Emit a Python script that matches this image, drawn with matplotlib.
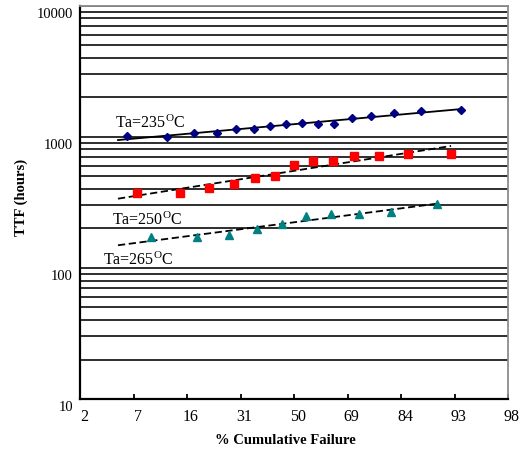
import matplotlib
matplotlib.use("Agg")
import matplotlib.pyplot as plt
import matplotlib.transforms as mtransforms
from matplotlib.ticker import LogLocator, NullFormatter, FixedLocator
import numpy as np
from statistics import NormalDist

# ---------------- data ----------------
x_tick_labels = [2, 7, 16, 31, 50, 69, 84, 93, 98]
y_tick_values = [10, 100, 1000, 10000]

# Ta = 235 C
pct_235 = [5.9, 11.8, 17.6, 23.5, 29.4, 35.3, 41.2, 47.1,
           52.9, 58.8, 64.7, 70.6, 76.5, 82.4, 88.2, 94.1]
ttf_235 = [1012, 989, 1062, 1073, 1151, 1151, 1207, 1243,
           1261, 1250, 1243, 1381, 1438, 1508, 1579, 1598]

# Ta = 250 C
pct_250 = [7.1, 14.3, 21.4, 28.6, 35.7, 42.9, 50.0,
           57.1, 64.3, 71.4, 78.6, 85.7, 92.9]
ttf_250 = [370, 370, 404, 434, 482, 502, 608,
           656, 656, 709, 709, 734, 734]

# Ta = 265 C
pct_265 = [9.1, 18.2, 27.3, 36.4, 45.5, 54.5, 63.6, 72.7, 81.8, 90.9]
ttf_265 = [171, 171, 178, 197, 215, 247, 256, 258, 268, 307]

labels = ["Ta=235$^{\\mathrm{O}}$C", "Ta=250$^{\\mathrm{O}}$C", "Ta=265$^{\\mathrm{O}}$C"]
fit_start_pct = 5.0

# ---------------- style ----------------
plt.rcParams["font.family"] = ["Liberation Serif", "DejaVu Serif"]
plt.rcParams["mathtext.fontset"] = "custom"
plt.rcParams["mathtext.rm"] = "Liberation Serif"
plt.rcParams["mathtext.it"] = "Liberation Serif:italic"
plt.rcParams["mathtext.bf"] = "Liberation Serif:bold"

nd = NormalDist()


def probit(p):
    return np.array([nd.inv_cdf(v / 100.0) for v in p])


fig = plt.figure(figsize=(5.27, 4.53), dpi=100)
W, H = 527, 453
ax = fig.add_axes([80 / W, 1 - 399 / H, 428 / W, (399 - 5.5) / H])

ax.set_yscale("log")
ax.set_ylim(10, 10000)
ax.set_xlim(-2, 2)

# horizontal grid lines
ax.yaxis.set_minor_locator(LogLocator(base=10, subs=np.arange(2, 10)))
ax.yaxis.set_minor_formatter(NullFormatter())
ax.yaxis.grid(True, which="both", color="black", lw=1.15)
ax.set_axisbelow(True)

# ticks
xpos = np.linspace(-2, 2, len(x_tick_labels))
ax.set_xticks(xpos)
ax.set_xticklabels([str(v) for v in x_tick_labels], fontsize=11.5)
ax.set_yticks(y_tick_values)
ax.set_yticklabels([str(v) for v in y_tick_values], fontsize=10.5)
ax.tick_params(axis="x", direction="in", length=3.5, width=1.3, pad=7, color="black")
ax.tick_params(axis="y", which="both", length=0, pad=5)

dx = mtransforms.ScaledTranslation(4 / 100, 0, fig.dpi_scale_trans)
for lab in ax.get_xticklabels():
    lab.set_transform(lab.get_transform() + dx)
dy = mtransforms.ScaledTranslation(0, -7 / 100, fig.dpi_scale_trans)
for lab in ax.get_yticklabels():
    lab.set_transform(lab.get_transform() + dy)

for s in ["left", "bottom"]:
    ax.spines[s].set_color("black")
    ax.spines[s].set_linewidth(1.6)
for s in ["top", "right"]:
    ax.spines[s].set_color("#8c8c8c")
    ax.spines[s].set_linewidth(1.3)

series = [
    (pct_235, ttf_235, "D", "#000080", 4.3, "-"),
    (pct_250, ttf_250, "s", "#ff0000", 5.5, (0, (4, 2))),
    (pct_265, ttf_265, "^", "#008080", 6.0, (0, (4, 2))),
]

z0 = probit([fit_start_pct])[0]
for pct, ttf, mk, col, ms, ls in series:
    zz = probit(pct)
    ly = np.log10(ttf)
    b, a = np.polyfit(zz, ly, 1)
    zf = np.array([z0, zz[-1]])
    ax.plot(zf, 10 ** (a + b * zf), color="black", lw=1.3, ls=ls, zorder=3)
    ax.plot(zz, ttf, ls="none", marker=mk, ms=ms, color=col,
            markeredgecolor=col, zorder=4)

# series annotations
ax.text(-1.67, 1165, labels[0], fontsize=11.5, ha="left", va="baseline")
ax.text(-1.70, 212, labels[1], fontsize=11.5, ha="left", va="baseline")
ax.text(-1.785, 105, labels[2], fontsize=11.5, ha="left", va="baseline")

# axis titles
fig.text(285 / W, 1 - 440 / H, "% Cumulative Failure", fontsize=10.5,
         fontweight="bold", ha="center", va="center")
fig.text(21 / W, 1 - 197 / H, "TTF (hours)", fontsize=10.5,
         fontweight="bold", ha="center", va="center", rotation=90)

fig.savefig("out.png", dpi=100)
